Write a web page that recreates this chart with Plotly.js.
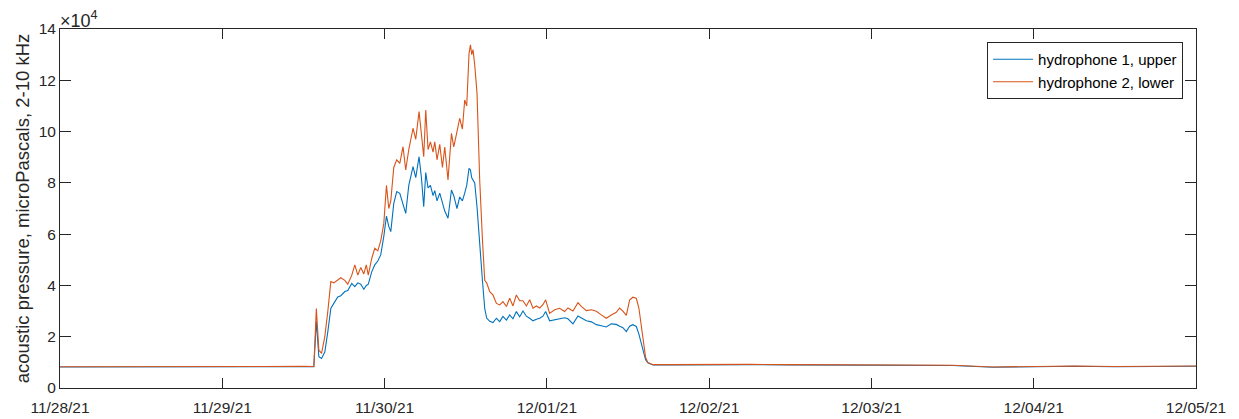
<!DOCTYPE html>
<html>
<head>
<meta charset="utf-8">
<script src="https://cdn.plot.ly/plotly-3.0.1.min.js"></script>
<style>html,body{margin:0;padding:0;background:#fff;}#chart{width:1239px;height:419px;}</style>
</head>
<body>
<div id="chart"></div>
<script>
// Hours since 2021-11-28 00:00 for each sample
const hoursSinceStart = [
  0, 6, 12, 18, 24, 30, 36, 37.54,
  37.91, 38.28, 38.68, 39.16, 39.61, 40.05, 40.49, 41.08, 41.53, 42.12, 42.56, 43.15,
  43.60, 44.04, 44.48, 44.93, 45.30, 45.59, 46.11, 46.55, 47.00, 47.44, 47.88, 48.28,
  48.62, 48.92, 49.36, 49.80, 50.25, 50.73, 51.13, 51.58, 52.21, 52.61, 53.10, 53.45,
  53.79, 54.09, 54.43, 54.78, 55.17, 55.42, 55.76, 56.16, 56.56, 56.90, 57.38, 57.89,
  58.23, 58.71, 59.11, 59.51, 59.85, 60.15, 60.49, 60.70, 60.89, 61.08, 61.33, 61.67,
  62.07, 62.47, 62.81, 63.10, 63.55, 64.03, 64.54, 65.03, 65.51, 66.02, 66.50, 66.99,
  67.49, 67.98, 68.47, 68.97, 69.46, 69.95, 70.45, 70.94, 71.42, 71.82, 72.41, 73.15,
  73.89, 74.63, 75.12, 75.86, 76.60, 77.10, 77.84, 78.58, 79.32, 80.05, 80.79, 81.53,
  82.27, 82.76, 83.25, 83.75, 84.24, 84.72, 85.23, 85.61, 85.97, 86.31, 86.60, 86.94,
  87.68, 90, 96, 102, 108, 114, 120, 126, 132, 138, 144, 150, 156, 162, 168
];

// hydrophone 1, upper (x10^4 microPascals)
const upperHydrophone = [
  0.82, 0.82, 0.82, 0.81, 0.81, 0.83, 0.84, 0.83,
  2.60, 1.22, 1.15, 1.40, 2.20, 3.10, 3.30, 3.55, 3.60, 3.76, 3.80, 4.08,
  3.95, 4.10, 4.05, 3.85, 4.00, 4.05, 4.54, 4.80, 4.95, 5.20, 5.90, 6.70,
  6.30, 6.10, 7.20, 7.66, 7.59, 7.20, 6.81, 7.90, 8.63, 8.20, 9.02, 8.20,
  7.07, 8.40, 7.80, 7.90, 7.50, 7.70, 7.30, 7.60, 7.20, 6.90, 6.62, 7.72,
  7.50, 7.00, 7.45, 7.30, 7.60, 7.90, 8.57, 8.50, 8.20, 8.10, 8.00, 7.07,
  5.50, 4.20, 3.10, 2.73, 2.60, 2.55, 2.72, 2.59, 2.79, 2.65, 2.85, 2.70,
  2.98, 2.78, 3.00, 2.80, 2.72, 2.62, 2.68, 2.72, 2.80, 2.98, 2.62, 2.66,
  2.70, 2.74, 2.70, 2.50, 2.81, 2.72, 2.62, 2.58, 2.47, 2.43, 2.38, 2.50,
  2.48, 2.41, 2.35, 2.20, 2.41, 2.47, 2.40, 2.10, 1.75, 1.35, 1.10, 0.98,
  0.90, 0.90, 0.91, 0.91, 0.90, 0.89, 0.90, 0.89, 0.88, 0.81, 0.84, 0.85, 0.83, 0.85, 0.85
];

// hydrophone 2, lower (x10^4 microPascals)
const lowerHydrophone = [
  0.83, 0.83, 0.83, 0.82, 0.82, 0.84, 0.85, 0.84,
  3.10, 1.48, 1.35, 2.00, 3.00, 4.15, 4.10, 4.20, 4.30, 4.20, 4.05, 4.40,
  4.80, 4.40, 4.70, 4.45, 4.80, 4.40, 5.06, 5.45, 5.35, 5.75, 6.40, 7.90,
  7.00, 7.30, 8.60, 8.90, 8.76, 9.41, 8.50, 9.30, 10.13, 9.70, 10.78, 9.90,
  9.02, 10.84, 9.30, 9.60, 9.20, 9.60, 8.90, 9.50, 8.60, 9.40, 8.11, 9.93,
  9.40, 10.00, 10.52, 10.10, 11.23, 11.00, 13.05, 13.38, 13.00, 13.20, 12.60, 11.50,
  8.10, 5.80, 4.20, 4.10, 3.76, 3.63, 3.30, 3.24, 3.37, 3.18, 3.50, 3.20,
  3.63, 3.40, 3.40, 3.20, 3.44, 3.11, 3.20, 3.12, 3.25, 3.44, 2.91, 3.05,
  3.11, 2.98, 3.12, 3.00, 3.33, 3.18, 3.02, 3.05, 2.99, 2.85, 2.72, 2.85,
  2.95, 3.12, 3.00, 2.83, 3.43, 3.54, 3.50, 3.12, 2.39, 1.60, 1.20, 0.99,
  0.91, 0.91, 0.92, 0.92, 0.91, 0.90, 0.91, 0.90, 0.89, 0.82, 0.85, 0.86, 0.84, 0.86, 0.86
];

const seriesNames = ['hydrophone 1, upper', 'hydrophone 2, lower'];
const xTickRange = ['2021-11-28', '2021-12-05'];
const yTicks = [0, 2, 4, 6, 8, 10, 12, 14];

function toStamp(h) {
  const d = new Date(Date.UTC(2021, 10, 28) + h * 3600000);
  const p = n => String(n).padStart(2, '0');
  return d.getUTCFullYear() + '-' + p(d.getUTCMonth() + 1) + '-' + p(d.getUTCDate()) + ' ' +
    p(d.getUTCHours()) + ':' + p(d.getUTCMinutes()) + ':' + p(d.getUTCSeconds());
}
const times = hoursSinceStart.map(toStamp);

const axisColor = '#262626';
const fam = 'Liberation Sans, Arial, sans-serif';
const tickFont = {family: fam, size: 15.5, color: axisColor};

const traces = [
  {x: times, y: upperHydrophone, name: seriesNames[0], type: 'scatter', mode: 'lines',
   line: {color: '#0072BD', width: 1.1}},
  {x: times, y: lowerHydrophone, name: seriesNames[1], type: 'scatter', mode: 'lines',
   line: {color: '#D95319', width: 1.1}}
];

const layout = {
  width: 1239, height: 419,
  margin: {l: 60, r: 43, t: 29, b: 31, pad: 0},
  paper_bgcolor: '#fff', plot_bgcolor: '#fff',
  font: tickFont,
  showlegend: true,
  legend: {x: 0.9886, y: 0.9638, xanchor: 'right', yanchor: 'top',
    bgcolor: '#fff', bordercolor: axisColor, borderwidth: 1,
    font: {family: fam, size: 15, color: '#000'},
    tracegroupgap: 0, itemwidth: 40},
  xaxis: {type: 'date', range: xTickRange, tick0: xTickRange[0], dtick: 86400000,
    tickformat: '%m/%d/%y', ticks: 'inside', ticklen: 10, tickcolor: axisColor,
    showline: true, linecolor: axisColor, linewidth: 1, mirror: 'ticks',
    showgrid: false, zeroline: false, tickfont: tickFont, ticklabelstandoff: 5},
  yaxis: {range: [0, 14], tickvals: yTicks, ticks: 'inside', ticklen: 11, tickcolor: axisColor,
    showline: true, linecolor: axisColor, linewidth: 1, mirror: 'ticks',
    showgrid: false, zeroline: false, tickfont: tickFont,
    title: {text: 'acoustic pressure, microPascals, 2-10 kHz', standoff: 4,
      font: {family: fam, size: 18.5, color: axisColor}}},
  annotations: [{xref: 'paper', yref: 'paper', x: 0, y: 1, xanchor: 'left', yanchor: 'bottom',
    text: '×10<sup>4</sup>', showarrow: false,
    font: {family: fam, size: 18, color: axisColor}, yshift: -4, xshift: -2}]
};

Plotly.newPlot('chart', traces, layout, {displayModeBar: false, staticPlot: true});
</script>
</body>
</html>
